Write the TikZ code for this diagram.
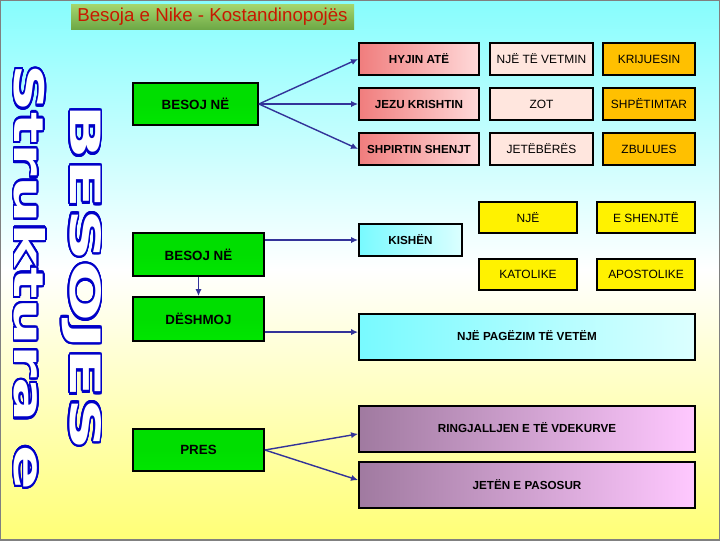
\documentclass[tikz,border=0pt]{standalone}
\usepackage{fontspec}
\setmainfont{Liberation Sans}
\newfontfamily\wordart{DejaVu Sans}
\usepackage[copies]{contour}
\contourlength{1.1pt}
\contournumber{32}
\usepackage{graphicx}
\usetikzlibrary{arrows.meta,calc,positioning}
\usepackage{xcolor}
\definecolor{bgtop}{RGB}{40,252,252}
\definecolor{bgbot}{RGB}{255,255,10}
\definecolor{grtop}{RGB}{0,150,0}
\definecolor{grmid}{RGB}{0,222,0}
\definecolor{grbot}{RGB}{0,238,0}
\definecolor{pinkl}{RGB}{240,125,125}
\definecolor{pinkr}{RGB}{255,218,218}
\definecolor{palepink}{RGB}{255,230,222}
\definecolor{amber}{RGB}{255,192,0}
\definecolor{cyanl}{RGB}{120,250,255}
\definecolor{cyanr}{RGB}{220,255,255}
\definecolor{mauvel}{RGB}{160,122,160}
\definecolor{mauver}{RGB}{255,200,255}
\definecolor{arrowblue}{RGB}{51,51,153}
\definecolor{outblue}{RGB}{0,0,200}
\definecolor{titletop}{RGB}{165,215,110}
\definecolor{titlebot}{RGB}{110,168,70}
\definecolor{titlered}{RGB}{200,25,0}
\pgfdeclareverticalshading{slidebg}{100bp}{color(0bp)=(bgbot); color(12bp)=(bgbot!85!white);
  color(50bp)=(white); color(88bp)=(bgtop!85!white); color(100bp)=(bgtop)}
\pgfdeclareverticalshading{greenfill}{100bp}{color(0bp)=(grbot); color(50bp)=(grmid);
  color(82bp)=(grmid); color(100bp)=(grtop)}
\newlength\px
\setlength\px{0.025cm}
\tikzset{
  box/.style={draw=black, line width=1.3pt, inner sep=0pt, align=center,
    font=\fontsize{8.5}{10}\selectfont},
  greenbox/.style={box, shade, shading=greenfill,
    font=\bfseries\fontsize{9.5}{11}\selectfont},
  pinkbox/.style={box, left color=pinkl, right color=pinkr,
    font=\bfseries\fontsize{8.3}{10}\selectfont, minimum width=120\px, minimum height=32\px},
  palebox/.style={box, fill=palepink, minimum width=103\px, minimum height=32\px},
  amberbox/.style={box, fill=amber, minimum width=92\px, minimum height=32\px},
  yellowbox/.style={box, fill=yellow, minimum width=98\px, minimum height=31\px},
  cyanbox/.style={box, left color=cyanl, right color=cyanr,
    font=\bfseries\fontsize{8.3}{10}\selectfont},
  mauvebox/.style={box, left color=mauvel, right color=mauver,
    font=\bfseries\fontsize{8.3}{10}\selectfont, minimum width=336\px, minimum height=46\px},
  link/.style={draw=arrowblue, line width=1pt, -{Latex[length=5pt,width=4.5pt]}},
  vtext/.style={rotate=-90, inner sep=0pt, text=white, font=\wordart\bfseries\fontsize{30}{30}\selectfont}
}
\begin{document}
\begin{tikzpicture}[x=0.025cm, y=-0.025cm]
\useasboundingbox (0,0) rectangle (720,540);
\shade[shading=slidebg] (0,0) rectangle (720,540);
\draw[gray, line width=1.2pt] (0,0) rectangle (720,540);

% title
\node[top color=titletop, bottom color=titlebot, inner sep=0pt, minimum width=283\px,
  minimum height=25\px, text=titlered, font=\fontsize{13.3}{15}\selectfont]
  (title) at (212.5,16.5) {Besoja e Nike - Kostandinopojës};

% vertical headings
\node[vtext] (struk) at (29,277.5) {\resizebox{425\px}{31\px}{\contour{outblue}{Struktura e}}};
\node[vtext] (besojes) at (81,277.5) {\resizebox{345\px}{31\px}{\contour{outblue}{BESOJES}}};

% left column
\node[greenbox, minimum width=125\px, minimum height=42\px] (besoja) at (195.5,104) {BESOJ NË};
\node[greenbox, minimum width=131\px, minimum height=43\px] (besojb) at (198.5,254.5) {BESOJ NË};
\node[greenbox, minimum width=131\px, minimum height=44\px] (deshmoj) at (198.5,319) {DËSHMOJ};
\node[greenbox, minimum width=131\px, minimum height=42\px] (pres) at (198.5,450) {PRES};

% trinity
\node[pinkbox] (hyjin) at (419,59) {HYJIN ATË};
\node[pinkbox] (jezu) at (419,104) {JEZU KRISHTIN};
\node[pinkbox] (shpirt) at (419,149) {SHPIRTIN SHENJT};
\node[palebox] (vetmin) at (541.5,59) {NJË TË VETMIN};
\node[palebox] (zot) at (541.5,104) {\raisebox{-3pt}{ZOT}};
\node[palebox] (jeteber) at (541.5,149) {\raisebox{1pt}{JETËBËRËS}};
\node[amberbox] (krijues) at (649,59) {KRIJUESIN};
\node[amberbox] (shpetim) at (649,104) {\raisebox{-1pt}{SHPËTIMTAR}};
\node[amberbox] (zbulues) at (649,149) {ZBULUES};

% church
\node[cyanbox, minimum width=103\px, minimum height=32\px] (kishen) at (410.5,240) {KISHËN};
\node[yellowbox] (nje) at (528,217.5) {\raisebox{-2pt}{NJË}};
\node[yellowbox] (shenjte) at (646,217.5) {E SHENJTË};
\node[yellowbox] (katolike) at (528,274.5) {\raisebox{-2pt}{KATOLIKE}};
\node[yellowbox] (apostol) at (646,274.5) {APOSTOLIKE};

% baptism and hope
\node[cyanbox, minimum width=336\px, minimum height=46\px] (pagezim) at (527,337) {\raisebox{2pt}{NJË PAGËZIM TË VETËM}};
\node[mauvebox] (ring) at (527,429) {\raisebox{2pt}{RINGJALLJEN E TË VDEKURVE}};
\node[mauvebox] (jeten) at (527,485) {\raisebox{1pt}{JETËN E PASOSUR}};

% connectors
\draw[link] (besoja.east) -- (hyjin.west);
\draw[link] (besoja.east) -- (jezu.west);
\draw[link] (besoja.east) -- (shpirt.west);
\draw[link] (besojb.east |- kishen.west) -- (kishen.west);
\draw[link] (besojb.south) -- (deshmoj.north);
\coordinate (pagin) at ([yshift=3.5pt]pagezim.west);
\draw[link] (deshmoj.east |- pagin) -- (pagin);
\draw[link] (pres.east) -- ([yshift=-3.5pt]ring.west);
\draw[link] (pres.east) -- ([yshift=3.5pt]jeten.west);
\end{tikzpicture}
\end{document}
